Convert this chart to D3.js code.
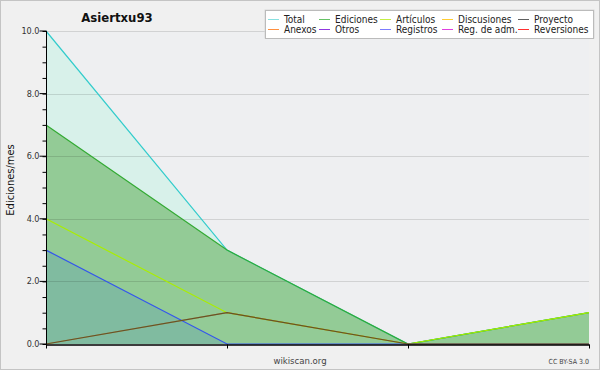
<!DOCTYPE html>
<html>
<head>
<meta charset="utf-8">
<script src="https://cdn.jsdelivr.net/npm/d3@7"></script>
<style>
  body { margin: 0; background: #f0f0f0; }
  text { font-family: "DejaVu Sans Condensed", "DejaVu Sans", sans-serif; }
</style>
</head>
<body>
<div id="vis"></div>
<script>
/* data */
let months = [0, 1, 2, 3];
let total = [10, 3, 0, 1];
let ediciones = [7, 3, 0, 1];
let articulos = [4, 1, 0, 1];
let registros = [3, 0, 0, 0];
let discusiones = [0, 1, 0, 0];
let proyecto = [0, 1, 0, 0];
let yTicks = [0, 2, 4, 6, 8, 10];
let legendNames = ["Total", "Ediciones", "Artículos", "Discusiones", "Proyecto",
  "Anexos", "Otros", "Registros", "Reg. de adm.", "Reversiones"];
let legendColors = ["#88e0e0", "#66c266", "#c4ee44", "#ffcc33", "#606060",
  "#ff9040", "#9038e0", "#7c7cff", "#e040e0", "#ff3030"];

/* geometry */
let width = 600, height = 370;
let boundsX = [46, 589];
let boundsY = [31, 344];

let x = d3.scaleLinear().domain([0, 3]).range(boundsX);
let y = d3.scaleLinear().domain([0, 10]).range([boundsY[1], boundsY[0]]);

let svg = d3.select("#vis").append("svg")
  .attr("width", width).attr("height", height);

/* frame */
svg.append("rect")
  .attr("x", 0.5).attr("y", 0.5).attr("width", width - 1).attr("height", height - 1)
  .attr("fill", "#f0f0f0").attr("stroke", "#c4c4c4");

/* plot background */
svg.append("rect")
  .attr("x", boundsX[0]).attr("y", boundsY[0])
  .attr("width", boundsX[1] - boundsX[0]).attr("height", boundsY[1] - boundsY[0])
  .attr("fill", "#eeeff1");

let area = vals => d3.area()
  .x((d, i) => x(months[i]))
  .y0(y(0)).y1(d => y(d))(vals);
let line = vals => d3.line()
  .x((d, i) => x(months[i]))
  .y(d => y(d))(vals);

/* fills */
svg.append("path").attr("d", area(total)).attr("fill", "#d8f1ea");
svg.append("path").attr("d", area(ediciones)).attr("fill", "#93cb96");
svg.append("path").attr("d", area(registros)).attr("fill", "#80bba0");

/* grid */
svg.append("g").selectAll("line")
  .data(yTicks.filter(v => v > 0))
  .join("line")
    .attr("x1", boundsX[0]).attr("x2", boundsX[1])
    .attr("y1", d => Math.round(y(d)) + 0.5).attr("y2", d => Math.round(y(d)) + 0.5)
    .attr("stroke", "#000").attr("stroke-opacity", 0.12);

/* lines */
let drawLine = (vals, color, op) => svg.append("path")
  .attr("d", line(vals)).attr("fill", "none")
  .attr("stroke", color).attr("stroke-width", 1.2)
  .attr("stroke-opacity", op || 1);
drawLine(total, "#33cccc");
drawLine(ediciones, "#33aa33");
drawLine(articulos, "#aaee00");
drawLine(registros, "#3355ee");
drawLine(discusiones, "#c89020");
drawLine(proyecto, "#303030", 0.65);

/* axes */
let yAxis = svg.append("g").attr("transform", "translate(" + (boundsX[0] + 0.5) + ",0)");
yAxis.call(d3.axisLeft(y).tickValues(d3.range(0, 10.01, 0.5)).tickSize(4).tickFormat(""))
  .call(g => g.select(".domain").remove());
yAxis.append("line").attr("y1", boundsY[0]).attr("y2", boundsY[1] + 0.5).attr("stroke", "#000");
yAxis.selectAll(".major").data(yTicks).join("line")
  .attr("x1", -7).attr("x2", 0)
  .attr("y1", d => y(d)).attr("y2", d => y(d)).attr("stroke", "#000");
yAxis.selectAll(".lbl").data(yTicks).join("text")
  .attr("x", -7).attr("y", d => y(d) + 3)
  .attr("text-anchor", "end").attr("font-size", 9).attr("fill", "#333")
  .text(d => d3.format(".1f")(d));

let xAxis = svg.append("g").attr("transform", "translate(0," + (boundsY[1] + 0.5) + ")");
xAxis.call(d3.axisBottom(x).tickValues(months).tickSize(4).tickFormat("").tickSizeOuter(0))
  .call(g => g.select(".domain").attr("stroke-width", 1.5));

/* texts */
svg.append("text").attr("x", 117).attr("y", 22).attr("text-anchor", "middle")
  .attr("font-size", 13).attr("font-weight", "bold").attr("fill", "#111").text("Asiertxu93");
svg.append("text").attr("transform", "translate(14,180) rotate(-90)")
  .attr("text-anchor", "middle").attr("font-size", 11).attr("fill", "#111").text("Ediciones/mes");
svg.append("text").attr("x", 300).attr("y", 364).attr("text-anchor", "middle")
  .attr("font-size", 9.5).attr("fill", "#444").text("wikiscan.org");
svg.append("text").attr("x", 589).attr("y", 364).attr("text-anchor", "end")
  .attr("font-size", 7).attr("fill", "#444").text("CC BY-SA 3.0");

/* legend */
let lg = svg.append("g");
lg.append("rect").attr("x", 264.5).attr("y", 9.5).attr("width", 330).attr("height", 29)
  .attr("fill", "#d8d8d8");
lg.append("rect").attr("x", 265.5).attr("y", 10.5).attr("width", 328).attr("height", 28)
  .attr("fill", "#fff").attr("stroke", "#bbb");
let colX = [268, 319, 380, 442, 518];
legendNames.forEach((name, i) => {
  let cx = colX[i % 5], cy = i < 5 ? 19 : 29;
  lg.append("line").attr("x1", cx).attr("x2", cx + 11)
    .attr("y1", cy + 0.5).attr("y2", cy + 0.5).attr("stroke", legendColors[i]);
  lg.append("text").attr("x", cx + 16).attr("y", cy + 4)
    .attr("font-size", 10).attr("fill", "#222").text(name);
});
</script>
</body>
</html>
